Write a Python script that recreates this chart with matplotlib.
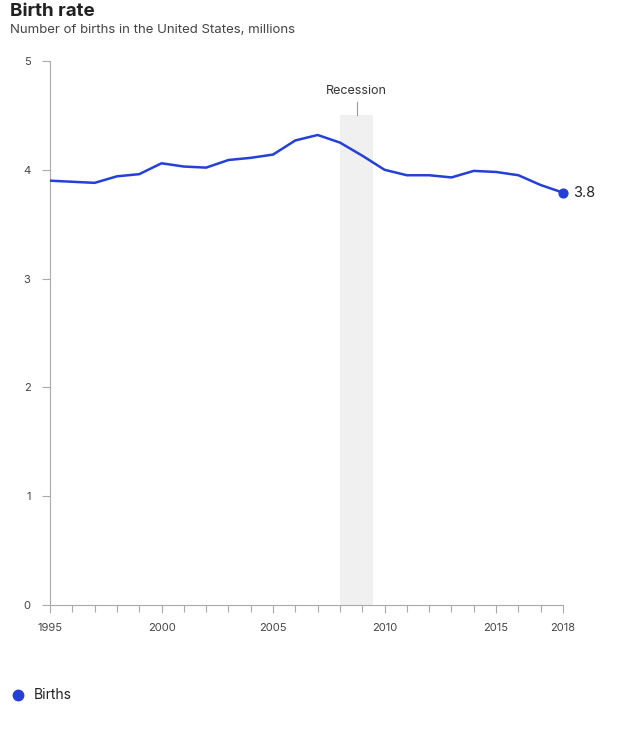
import numpy as np
import matplotlib.pyplot as plt
from matplotlib.lines import Line2D

plt.rcParams['font.family'] = ['Inter', 'DejaVu Sans']

years = list(range(1995, 2019))
births = [3.90, 3.89, 3.88, 3.94, 3.96, 4.06, 4.03, 4.02, 4.09, 4.11, 4.14, 4.27,
          4.32, 4.25, 4.13, 4.00, 3.95, 3.95, 3.93, 3.99, 3.98, 3.95, 3.86, 3.79]
major_years = [1995, 2000, 2005, 2010, 2015, 2018]
recession = (2008.0, 2009.5)

blue = '#2440d8'

fig = plt.figure(figsize=(6.28, 7.5), dpi=100)
ax = fig.add_axes([50 / 628, 145 / 750, 513 / 628, 544 / 750])

# recession band + label
ax.axvspan(recession[0], recession[1], ymin=0, ymax=4.5 / 5, color='#f0f0f0', lw=0, zorder=0)
mid = (recession[0] + recession[1]) / 2
ax.plot([mid, mid], [4.5, 4.62], color='#999999', lw=0.8, clip_on=False)
ax.text(mid, 4.67, 'Recession', ha='center', va='bottom', fontsize=9, color='#333333')

ax.plot(years, births, color=blue, lw=1.8, zorder=3)
ax.scatter([years[-1]], [births[-1]], s=40, color=blue, zorder=4, clip_on=False)
ax.text(years[-1] + 0.45, births[-1], '%.1f' % births[-1], va='center', ha='left',
        fontsize=10.5, color='#222222')

ax.set_xlim(1995, 2018)
ax.set_ylim(0, 5)
ax.set_xticks(major_years)
ax.set_xticks(years, minor=True)
ax.set_xticklabels([str(y) for y in major_years])
ax.set_yticks(range(6))

for s in ['top', 'right']:
    ax.spines[s].set_visible(False)
for s in ['left', 'bottom']:
    ax.spines[s].set_color('#aaaaaa')
    ax.spines[s].set_linewidth(0.8)
ax.tick_params(axis='both', which='both', color='#aaaaaa', labelcolor='#444444',
               labelsize=8, width=0.8)
ax.tick_params(axis='x', which='major', length=6, pad=7)
ax.tick_params(axis='x', which='minor', length=5)
ax.tick_params(axis='y', length=6, pad=8)

fig.text(10 / 628, 1 - 11 / 750, 'Birth rate', fontsize=13.5, fontweight='bold',
         color='#222222', va='center')
fig.text(10 / 628, 1 - 30 / 750, 'Number of births in the United States, millions',
         fontsize=9.5, color='#444444', va='center')

# legend
fig.add_artist(Line2D([18 / 628], [1 - 695 / 750], marker='o', markersize=7.5,
                      color=blue, linestyle='none', transform=fig.transFigure))
fig.text(34 / 628, 1 - 695 / 750, 'Births', fontsize=10, color='#222222', va='center')

fig.savefig('out.png', dpi=100)
